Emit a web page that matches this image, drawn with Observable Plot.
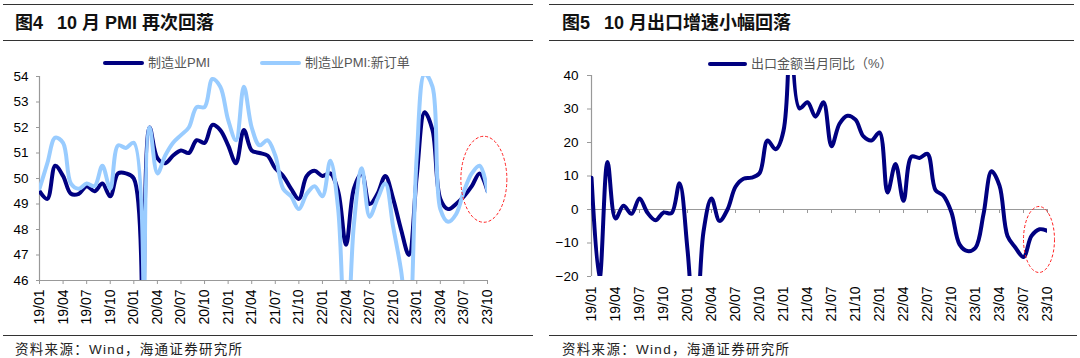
<!DOCTYPE html>
<html><head><meta charset="utf-8">
<script src="https://cdn.jsdelivr.net/npm/d3@7"></script>
<script src="https://cdn.jsdelivr.net/npm/@observablehq/plot@0.6"></script>
<style>
body{margin:0;background:#fff;}
#wrap{position:relative;width:1080px;height:358px;overflow:hidden;font-family:"Liberation Sans",Arial,"Noto Sans CJK SC",sans-serif;background:#fff;}
.rule{position:absolute;height:0;border-top:1.3px solid #333;}
.title{position:absolute;font-weight:bold;font-size:18px;line-height:20px;color:#111;white-space:nowrap;}
.src{position:absolute;font-size:13.5px;line-height:14px;letter-spacing:1.3px;color:#222;white-space:nowrap;font-family:"Liberation Sans",Arial,"Noto Sans CJK SC",sans-serif;}
.leg{position:absolute;font-size:13px;line-height:16px;color:#555;white-space:nowrap;display:flex;align-items:center;}
.leg i{display:inline-block;width:41px;height:4px;margin-right:4px;border-radius:2px;}
.chart{position:absolute;top:0;}
</style>
</head><body>
<div id="wrap">
  <div class="rule" style="left:3px;width:530px;top:4px"></div>
  <div class="rule" style="left:3px;width:530px;top:40px"></div>
  <div class="rule" style="left:3px;width:530px;top:335px"></div>
  <div class="rule" style="left:549px;width:525px;top:4px"></div>
  <div class="rule" style="left:549px;width:525px;top:40px"></div>
  <div class="rule" style="left:549px;width:528px;top:335px"></div>
  <div class="title" style="left:15px;top:13px">图4<span style="margin-left:14px">10 月 PMI 再次回落</span></div>
  <div class="title" style="left:562px;top:13px">图5<span style="margin-left:14px">10 月出口增速小幅回落</span></div>
  <div class="src" style="left:15px;top:343px">资料来源：Wind，海通证券研究所</div>
  <div class="src" style="left:562px;top:343px">资料来源：Wind，海通证券研究所</div>
  <div class="leg" style="left:103px;top:55px"><i style="background:#000080"></i>制造业PMI</div>
  <div class="leg" style="left:260px;top:55px"><i style="background:#99CCFF"></i>制造业PMI:新订单</div>
  <div class="leg" style="left:708px;top:56px"><i style="background:#000080;width:39px"></i>出口金额当月同比（%）</div>
  <div id="c1" class="chart" style="left:0"></div>
  <div id="c2" class="chart" style="left:540px"></div>
</div>
<script>
const months = [
  "19/01","19/02","19/03","19/04","19/05","19/06","19/07","19/08","19/09","19/10","19/11","19/12",
  "20/01","20/02","20/03","20/04","20/05","20/06","20/07","20/08","20/09","20/10","20/11","20/12",
  "21/01","21/02","21/03","21/04","21/05","21/06","21/07","21/08","21/09","21/10","21/11","21/12",
  "22/01","22/02","22/03","22/04","22/05","22/06","22/07","22/08","22/09","22/10","22/11","22/12",
  "23/01","23/02","23/03","23/04","23/05","23/06","23/07","23/08","23/09","23/10"];
const xTickLabels = ["19/01","19/04","19/07","19/10","20/01","20/04","20/07","20/10","21/01","21/04","21/07","21/10","22/01","22/04","22/07","22/10","23/01","23/04","23/07","23/10"];
const pmiTicks = [46,47,48,49,50,51,52,53,54];
const exportTicks = [-20,-10,0,10,20,30,40];

const pmi = [
  49.5,49.2,50.5,50.1,49.4,49.4,49.7,49.5,49.8,49.3,50.2,50.2,
  50.0,35.7,52.0,50.8,50.6,50.9,51.1,51.0,51.5,51.4,52.1,51.9,
  51.3,50.6,51.9,51.1,51.0,50.9,50.4,50.1,49.6,49.2,50.1,50.3,
  50.1,50.2,49.5,47.4,49.6,50.2,49.0,49.4,50.1,49.2,48.0,47.0,
  50.1,52.6,51.9,49.2,48.8,49.0,49.3,49.7,50.2,49.5];
const pmiNewOrders = [
  49.6,50.6,51.6,51.4,49.8,49.6,49.8,49.7,50.5,49.6,51.3,51.2,
  51.4,29.3,52.0,50.2,50.9,51.4,51.7,52.0,52.8,52.8,53.9,53.6,
  52.3,51.5,53.6,52.0,51.3,51.5,50.9,49.6,49.3,48.8,49.4,49.7,
  49.3,50.7,48.8,42.6,48.2,50.4,48.5,49.2,49.8,48.1,46.4,43.9,
  50.9,54.1,53.6,48.8,48.3,48.6,49.5,50.2,50.5,49.5];
const exportsYoY = [
  9.5,-20.7,14.2,-2.7,1.1,-1.3,3.3,-1.0,-3.2,-0.9,-1.1,7.8,
  -12.0,-40.6,-6.6,3.3,-3.4,0.0,6.8,9.2,9.5,10.8,20.6,18.0,
  23.5,154.9,30.2,32.0,27.7,32.0,18.9,25.6,28.0,26.8,21.8,20.6,
  23.0,5.1,13.6,2.6,15.8,15.4,16.6,5.8,4.1,-0.9,-10.4,-12.4,
  -11.4,-1.4,11.4,7.1,-7.9,-11.4,-14.2,-7.9,-5.9,-6.4];

const pmiRows = months.map((m, i) => ({month: m, pmi: pmi[i], newOrders: pmiNewOrders[i]}));
const expRows = months.map((m, i) => ({month: m, value: exportsYoY[i]}));

const baseStyle = {fontFamily: "'Liberation Sans', Arial, sans-serif", fontSize: "13px", color: "#000", background: "transparent", overflow: "visible"};
const axisGray = "#999";

const left = Plot.plot({
  width: 540, height: 358,
  marginLeft: 39, marginRight: 53, marginTop: 76, marginBottom: 78,
  style: baseStyle,
  x: {type: "point", domain: months, padding: 0},
  y: {domain: [46, 54]},
  marks: [
    Plot.ruleX([months[0]], {stroke: axisGray, strokeWidth: 1.2}),
    Plot.ruleY([46], {stroke: axisGray, strokeWidth: 1.2}),
    Plot.axisY({ticks: pmiTicks, tickSize: 3, tickPadding: 8, stroke: axisGray, fill: "#000", label: null, fontSize: 13.5}),
    Plot.axisX({ticks: xTickLabels, tickSize: 4, tickPadding: 5, tickRotate: -90, stroke: axisGray, fill: "#000", label: null, fontSize: 14}),
    Plot.line(pmiRows, {x: "month", y: "pmi", stroke: "#000080", strokeWidth: 4, curve: "catmull-rom", clip: true, strokeLinejoin: "round"}),
    Plot.line(pmiRows, {x: "month", y: "newOrders", stroke: "#99CCFF", strokeWidth: 4, curve: "catmull-rom", clip: true, strokeLinejoin: "round"})
  ]
});
document.getElementById("c1").appendChild(left);

const right = Plot.plot({
  width: 540, height: 358,
  marginLeft: 51, marginRight: 33, marginTop: 75, marginBottom: 82,
  style: baseStyle,
  x: {type: "point", domain: months, padding: 0},
  y: {domain: [-20, 40]},
  marks: [
    Plot.ruleX([months[0]], {stroke: axisGray, strokeWidth: 1.2}),
    Plot.ruleY([0], {stroke: axisGray, strokeWidth: 1.2}),
    Plot.ruleX(xTickLabels, {x: d => d, y1: 0, y2: 0, insetBottom: -4, stroke: axisGray}),
    Plot.axisY({ticks: exportTicks, tickSize: 4, tickPadding: 9, stroke: axisGray, fill: "#000", label: null, fontSize: 13.5}),
    Plot.axisX({ticks: xTickLabels, tickSize: 0, tickPadding: 10, tickRotate: -90, fill: "#000", label: null, fontSize: 14}),
    Plot.line(expRows, {x: "month", y: "value", stroke: "#000080", strokeWidth: 4, curve: "catmull-rom", clip: true, strokeLinejoin: "round"})
  ]
});
document.getElementById("c2").appendChild(right);

// dashed red ellipses highlighting the latest months
function ellipse(chart, a, b, frac, yVal, rx, ry) {
  const xs = chart.scale("x"), ys = chart.scale("y");
  const xa = xs.apply(a), xb = xs.apply(b);
  d3.select(chart).append("ellipse")
    .attr("cx", xa + frac * (xb - xa)).attr("cy", ys.apply(yVal))
    .attr("rx", rx).attr("ry", ry)
    .attr("fill", "none").attr("stroke", "#FF2020").attr("stroke-width", 1)
    .attr("stroke-dasharray", "3,2");
}
ellipse(left, "23/09", "23/10", 0.6, 49.95, 23, 43);
ellipse(right, "23/09", "23/10", 0.0, -9.1, 15.5, 33);
</script>
</body></html>
